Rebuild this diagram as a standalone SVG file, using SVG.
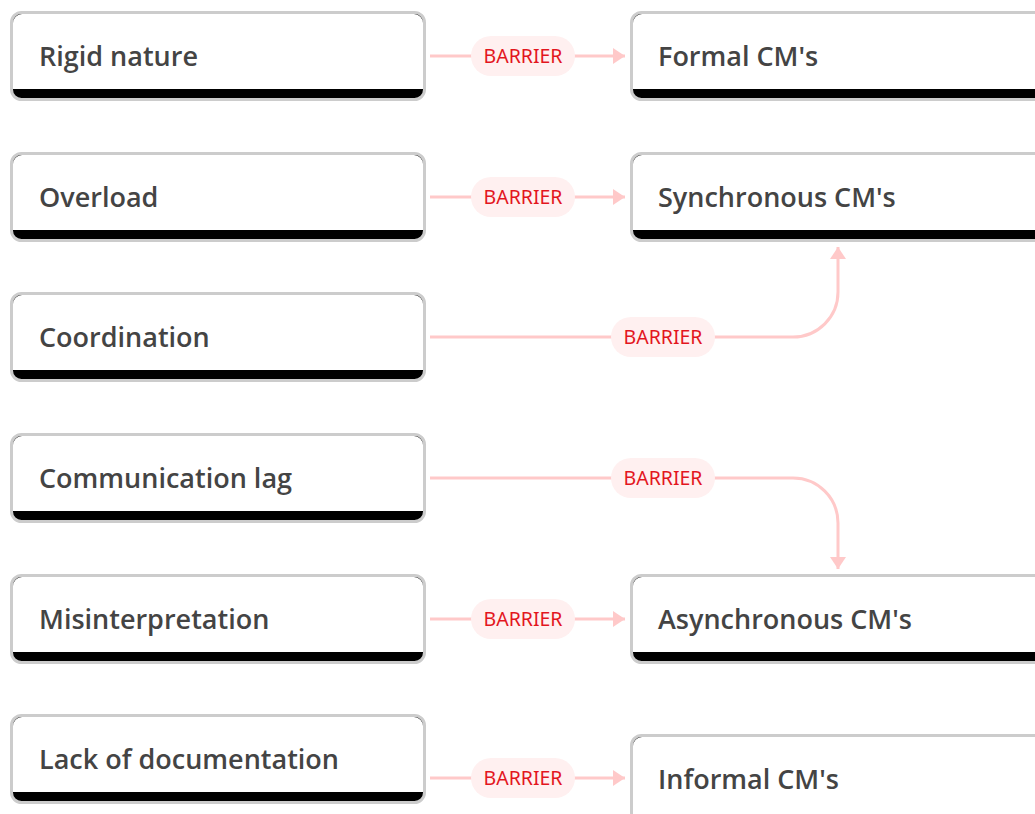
<svg xmlns="http://www.w3.org/2000/svg" width="1035" height="814" viewBox="0 0 1035 814">
<defs>
<style>
.box{fill:#000;stroke:#cccccc;stroke-width:3}
.face{fill:#fff}
.lbl{font-family:"Open Sans","Noto Sans",sans-serif;font-weight:600;font-size:27px;fill:#444}
.edge{fill:none;stroke:#ffc9c9;stroke-width:3}
.pill{fill:#fff0f0}
.et{font-family:"Noto Sans","Open Sans",sans-serif;font-size:19.5px;fill:#e3161e;text-anchor:middle}
</style>
<marker id="ah" markerUnits="userSpaceOnUse" markerWidth="13" markerHeight="18" refX="12" refY="8" orient="auto">
<path d="M0,0 L12,8 L0,16 Z" fill="#ffc9c9"/>
</marker>
</defs>
<g id="connectors">
<path class="edge" d="M430,56 H625" marker-end="url(#ah)"/>
<rect class="pill" x="471" y="36" width="104" height="40" rx="20"/>
<text class="et" x="523" y="63">BARRIER</text>
<path class="edge" d="M430,197 H625" marker-end="url(#ah)"/>
<rect class="pill" x="471" y="177" width="104" height="40" rx="20"/>
<text class="et" x="523" y="204">BARRIER</text>
<path class="edge" d="M430,337 H793 A45,45 0 0 0 838,292 V247" marker-end="url(#ah)"/>
<rect class="pill" x="611" y="317" width="104" height="40" rx="20"/>
<text class="et" x="663" y="344">BARRIER</text>
<path class="edge" d="M430,478 H793 A45,45 0 0 1 838,523 V569" marker-end="url(#ah)"/>
<rect class="pill" x="611" y="458" width="104" height="40" rx="20"/>
<text class="et" x="663" y="485">BARRIER</text>
<path class="edge" d="M430,619 H625" marker-end="url(#ah)"/>
<rect class="pill" x="471" y="599" width="104" height="40" rx="20"/>
<text class="et" x="523" y="626">BARRIER</text>
<path class="edge" d="M430,778 H625" marker-end="url(#ah)"/>
<rect class="pill" x="471" y="758" width="104" height="40" rx="20"/>
<text class="et" x="523" y="785">BARRIER</text>
</g>
<g id="rigid-nature">
<rect class="box" x="11.5" y="12.5" width="413" height="87" rx="10"/>
<path class="face" d="M13,89 V23 A9,9 0 0 1 22,14 H414 A9,9 0 0 1 423,23 V89 Z"/>
<text class="lbl" x="39" y="66">Rigid nature</text>
</g>
<g id="overload">
<rect class="box" x="11.5" y="153.5" width="413" height="87" rx="10"/>
<path class="face" d="M13,230 V164 A9,9 0 0 1 22,155 H414 A9,9 0 0 1 423,164 V230 Z"/>
<text class="lbl" x="39" y="207">Overload</text>
</g>
<g id="coordination">
<rect class="box" x="11.5" y="293.5" width="413" height="87" rx="10"/>
<path class="face" d="M13,370 V304 A9,9 0 0 1 22,295 H414 A9,9 0 0 1 423,304 V370 Z"/>
<text class="lbl" x="39" y="347">Coordination</text>
</g>
<g id="communication-lag">
<rect class="box" x="11.5" y="434.5" width="413" height="87" rx="10"/>
<path class="face" d="M13,511 V445 A9,9 0 0 1 22,436 H414 A9,9 0 0 1 423,445 V511 Z"/>
<text class="lbl" x="39" y="488">Communication lag</text>
</g>
<g id="misinterpretation">
<rect class="box" x="11.5" y="575.5" width="413" height="87" rx="10"/>
<path class="face" d="M13,652 V586 A9,9 0 0 1 22,577 H414 A9,9 0 0 1 423,586 V652 Z"/>
<text class="lbl" x="39" y="629">Misinterpretation</text>
</g>
<g id="lack-of-documentation">
<rect class="box" x="11.5" y="715.5" width="413" height="87" rx="10"/>
<path class="face" d="M13,792 V726 A9,9 0 0 1 22,717 H414 A9,9 0 0 1 423,726 V792 Z"/>
<text class="lbl" x="39" y="769">Lack of documentation</text>
</g>
<g id="formal-cms">
<rect class="box" x="631.5" y="12.5" width="413" height="87" rx="10"/>
<path class="face" d="M633,89 V23 A9,9 0 0 1 642,14 H1034 A9,9 0 0 1 1043,23 V89 Z"/>
<text class="lbl" x="658" y="66">Formal CM's</text>
</g>
<g id="synchronous-cms">
<rect class="box" x="631.5" y="153.5" width="413" height="87" rx="10"/>
<path class="face" d="M633,230 V164 A9,9 0 0 1 642,155 H1034 A9,9 0 0 1 1043,164 V230 Z"/>
<text class="lbl" x="658" y="207">Synchronous CM's</text>
</g>
<g id="asynchronous-cms">
<rect class="box" x="631.5" y="575.5" width="413" height="87" rx="10"/>
<path class="face" d="M633,652 V586 A9,9 0 0 1 642,577 H1034 A9,9 0 0 1 1043,586 V652 Z"/>
<text class="lbl" x="658" y="629">Asynchronous CM's</text>
</g>
<g id="informal-cms">
<rect class="box" x="631.5" y="735.5" width="413" height="87" rx="10"/>
<path class="face" d="M633,814 V746 A9,9 0 0 1 642,737 H1034 A9,9 0 0 1 1043,746 V814 Z"/>
<text class="lbl" x="658" y="789">Informal CM's</text>
</g>
</svg>
